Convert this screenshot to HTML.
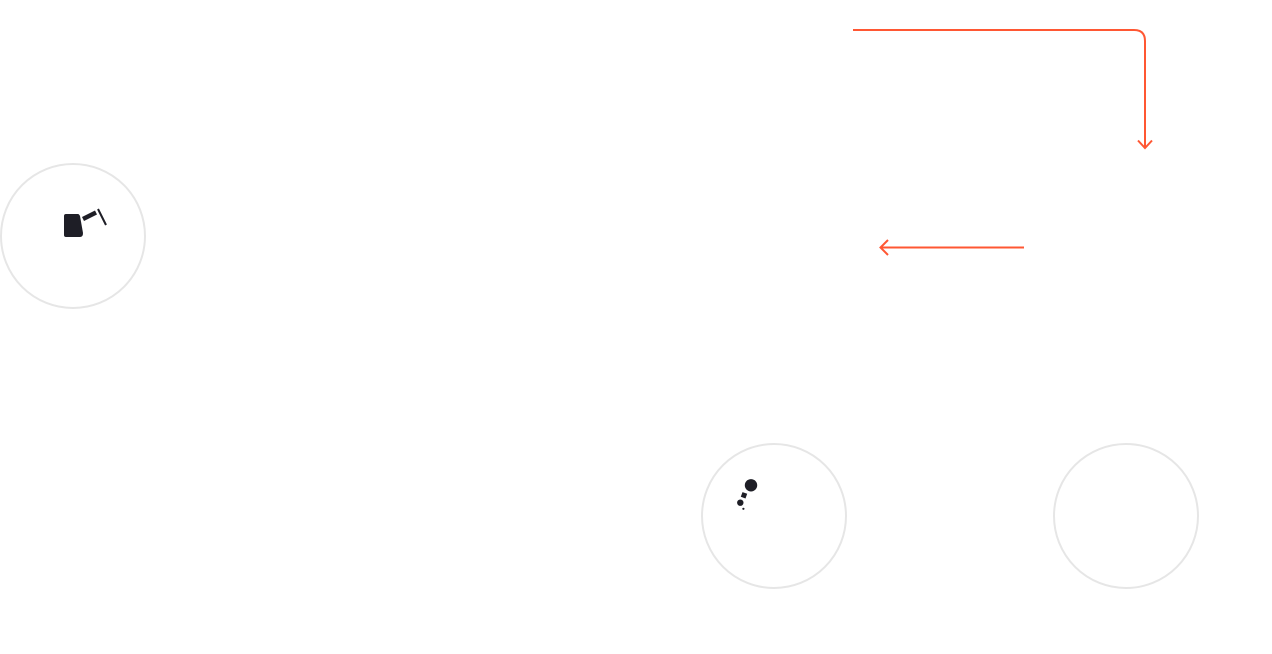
<!DOCTYPE html>
<html>
<head>
<meta charset="utf-8">
<style>
html,body{margin:0;padding:0;background:#fff;}
body{width:1272px;height:654px;overflow:hidden;font-family:"Liberation Sans",sans-serif;}
svg{display:block;}
</style>
</head>
<body>
<svg width="1272" height="654" viewBox="0 0 1272 654" xmlns="http://www.w3.org/2000/svg">
  <!-- circles -->
  <circle cx="73" cy="236" r="72" fill="#fff" stroke="#e6e6e6" stroke-width="2"/>
  <circle cx="774" cy="516" r="72" fill="#fff" stroke="#e6e6e6" stroke-width="2"/>
  <circle cx="1126" cy="516" r="72" fill="#fff" stroke="#e6e6e6" stroke-width="2"/>

  <!-- left icon -->
  <path d="M66,214 L78,214 Q79,214 80,216 L83,233 Q83,237 80,237 L66,237 Q64,237 64,235 L64,216 Q64,214 66,214 Z" fill="#1e1e26"/>
  <line x1="83" y1="219" x2="96" y2="212.5" stroke="#1e1e26" stroke-width="4.5"/>
  <line x1="98" y1="209" x2="106" y2="225" stroke="#1e1e26" stroke-width="2"/>

  <!-- middle icon -->
  <circle cx="751" cy="485.3" r="6.2" fill="#1e1e26"/>
  <rect x="741.5" y="492.8" width="5" height="5" fill="#1e1e26" transform="rotate(20 744 495.3)"/>
  <circle cx="740.3" cy="502.7" r="3.2" fill="#1e1e26"/>
  <circle cx="743.4" cy="508.8" r="1.1" fill="#1e1e26"/>

  <!-- top right connector -->
  <path d="M853,30 L1134,30 Q1145,30 1145,41 L1145,148" fill="none" stroke="#ff5733" stroke-width="2"/>
  <path d="M1138,140.5 L1145,148 L1152,140.5" fill="none" stroke="#ff5733" stroke-width="2"/>

  <!-- left arrow -->
  <line x1="1024" y1="247.5" x2="881" y2="247.5" stroke="#ff5733" stroke-width="2"/>
  <path d="M888,240 L880.5,247.5 L888,255" fill="none" stroke="#ff5733" stroke-width="2"/>
</svg>
</body>
</html>
